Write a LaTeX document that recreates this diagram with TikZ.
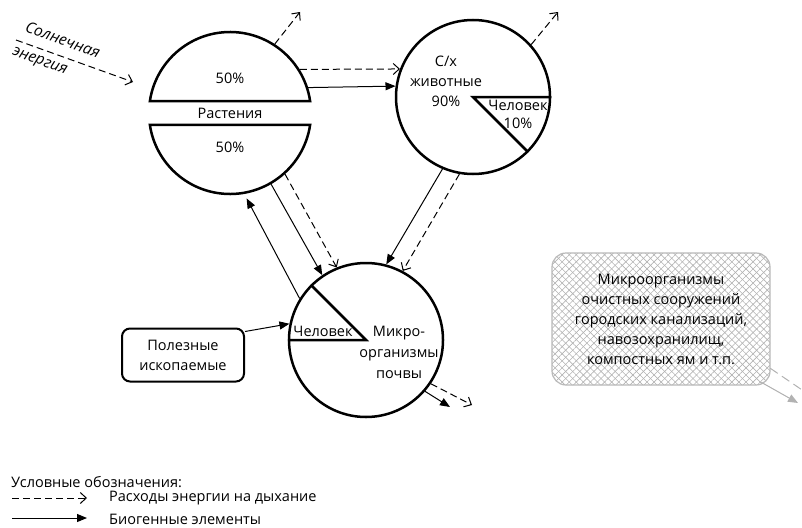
\documentclass[tikz,border=0pt]{standalone}
\usepackage{fontspec}
\setmainfont{Open Sans}
\usetikzlibrary{arrows.meta,positioning,calc,patterns.meta}
\tikzset{
  krug/.style={circle,draw,line width=2.5pt,minimum size=154pt,inner sep=0pt},
  ramka/.style={draw,line width=2pt,rounded corners=8pt,align=center,minimum width=122pt,
                minimum height=53pt,inner sep=2pt},
  setka/.style={draw=gray!55,line width=1.2pt,rounded corners=14pt,align=center,
                minimum width=218pt,minimum height=132pt,
                preaction={pattern={Lines[angle=45,distance=5pt,line width=.6pt]},pattern color=gray!60},
                pattern={Lines[angle=-45,distance=5pt,line width=.6pt]},pattern color=gray!60},
  dyh/.style={dash pattern=on 7pt off 4pt,-{Straight Barb[length=6pt,width=11pt]},line width=1pt},
  bio/.style={-{Triangle[length=10pt,width=8pt]},line width=1pt},
  tekst/.style={font=\fontsize{14.5}{20}\selectfont,align=center,inner sep=1pt},
}

\begin{document}
\begin{tikzpicture}[x=1pt,y=1pt]
  \useasboundingbox (0,0) rectangle (802,-527);
  % krugi
  \node[krug,draw=none,minimum size=162pt] (rast) at (230,-113) {};
  \node[krug] (anim) at (473,-97) {};
  \node[krug] (soil) at (366,-340) {};
  \draw[line width=2.5pt] ($(rast.center)+(8.5:81)$) arc[start angle=8.5,end angle=171.5,radius=81] -- cycle;
  \draw[line width=2.5pt] ($(rast.center)+(-8.5:81)$) arc[start angle=-8.5,end angle=-171.5,radius=81] -- cycle;
  \draw[line width=2.5pt] (anim.0) -- (anim.center) -- (anim.-45);
  \draw[line width=2.5pt] (soil.180) -- (soil.center) -- (soil.135);
  % teksty
  \node[tekst] (r1) at (230,-78) {50\%};
  \node[tekst] (r2) at (230,-113) {Растения};
  \node[tekst] (r3) at (230,-147) {50\%};
  \node[tekst] (a1) at (446,-81) {С/х\\животные\\90\%};
  \node[tekst,font=\fontsize{14.5}{18}\selectfont] (a2) at (518,-114) {Человек\\10\%};
  \node[tekst] (s1) at (323,-331) {Человек};
  \node[tekst,font=\fontsize{14.5}{21}\selectfont] (s2) at (399,-352) {Микро-\\организмы\\почвы};
  \node[ramka,tekst] (box) at (183,-355) {Полезные\\ископаемые};
  \node[setka,tekst] (mikro) at (661,-319) {Микроорганизмы\\очистных сооружений\\городских канализаций,\\навозохранилищ,\\компостных ям и т.п.};
  \node[rotate=-20,align=left,inner sep=0pt,font=\itshape\fontsize{15.5}{26}\selectfont] (sol)
    at (56,-53) {\hspace*{4pt}Солнечная\\энергия};
  % svobodnye koncy
  \coordinate (c1) at (300,-12);
  \coordinate (c2) at (558,-12);
  \coordinate (c3) at (450,-407);
  \coordinate (c4) at (472,-405);
  \coordinate (c5) at (16,-40);
  \coordinate (c6) at (133,-82);
  \coordinate (c7) at (798,-403);
  \coordinate (c8) at (808,-394);
  % strelki
  \draw[dyh] (c5) -- (c6);
  \draw[dyh] (rast.57) -- (c1);
  \draw[dyh] (anim.42.5) -- (c2);
  \draw[dyh] (rast.32) -- (anim.159.5);
  \draw[bio] (rast.18.7) -- (anim.172.5);
  \draw[bio] (rast.-60) -- (soil.124);
  \draw[dyh] (rast.-48) -- (soil.112);
  \draw[bio,shorten >=5pt] (soil.148) -- (rast.-80);
  \draw[bio] (anim.-113) -- (soil.75);
  \draw[dyh] (anim.-100) -- (soil.62);
  \draw[bio] ([yshift=-4pt]box.north east) -- (soil.168);
  \draw[bio] (soil.-41) -- (c3);
  \draw[dyh] (soil.-34) -- (c4);
  \draw[-{Triangle[length=10pt,width=8pt]},line width=1pt,draw=gray!60,fill=gray!60]
    ([shift={(-9pt,3pt)}]mikro.south east) -- (c7);
  \draw[dash pattern=on 9pt off 5pt,line width=1pt,draw=gray!60] ([yshift=17pt]mikro.south east) -- (c8);
  % legenda
  \node[tekst,anchor=west] (leg) at (10,-482) {Условные обозначения:};
  \node[tekst,anchor=west] (leg1) at (108,-498) {Расходы энергии на дыхание};
  \node[tekst,anchor=west] (leg2) at (108,-519) {Биогенные элементы};
  \coordinate (ld1) at (12,-498);
  \coordinate (ld2) at (12,-518);
  \draw[dyh,shorten >=21pt] (ld1) -- (ld1 -| leg1.west);
  \draw[bio,shorten >=21pt] (ld2) -- (ld2 -| leg2.west);
\end{tikzpicture}
\end{document}
